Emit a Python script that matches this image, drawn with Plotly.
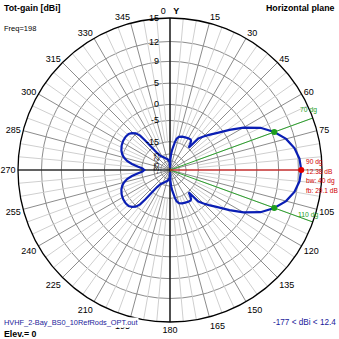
import numpy as np
import plotly.graph_objects as go

# ---------------- data ----------------
azimuth_deg = [0, 2, 4, 6, 8, 10, 12, 15, 20, 25, 30, 34, 36, 38, 40, 42, 45, 48, 52, 56,
               60, 65, 70, 75, 80, 85, 90, 95, 100, 105, 110, 115, 120, 124, 128, 132,
               135, 138, 140, 142, 144, 146, 150, 155, 160, 165, 168, 170, 172, 174, 176,
               178, 180, 182, 185, 190, 195, 200, 205, 210, 214, 217, 219, 220, 221, 223,
               226, 229, 233, 238, 243, 248, 252, 255, 258, 261, 264, 267, 270, 273, 276,
               279, 282, 285, 288, 292, 297, 302, 307, 311, 314, 317, 319, 320, 321, 323,
               326, 330, 335, 340, 345, 350, 355, 358]
gain_dbi = [-60, -33, -25, -21, -18.3, -15, -12.8, -11.6, -11.0, -10.7, -10.4, -10.3, -10.8,
            -12.5, -14.5, -7.8, -5.8, -4.0, -1.5, 1.6, 4.6, 7.5, 9.38, 10.8, 11.7, 12.2,
            12.38, 12.2, 11.7, 10.8, 9.38, 7.5, 4.6, 1.6, -1.5, -4.0, -5.8, -7.8, -14.5,
            -12.5, -10.8, -10.3, -10.4, -10.7, -11.0, -11.6, -12.8, -15, -18.3, -21, -25,
            -33, -60, -40, -36, -33, -31, -30, -28, -26, -24, -20, -14, -9.5, -6.5, -4.8,
            -3.8, -3.2, -3.0, -3.1, -3.4, -4.0, -4.8, -5.8, -7.2, -9.5, -12.5, -15.5, -16.7,
            -15.5, -12.5, -9.5, -7.2, -5.8, -4.8, -4.0, -3.4, -3.1, -3.0, -3.2, -3.8, -4.8,
            -6.5, -9.5, -14, -20, -24, -26, -28, -30, -31, -33, -36, -40]

ring_db = [15, 12, 9, 5, 0, -5, -15, -25, -35]
ring_labels = ["15", "12", "9", "5", "0", "-5", "-15", "-25", "-35"]
angle_ticks = list(range(0, 360, 15))
angle_labels = ["0   <b>Y</b>" if a == 0 else ("" if a == 90 else str(a)) for a in angle_ticks]

max_az = 90
max_gain = 12.38
beam_az = [70, 110]
beam_gain = [9.38, 9.38]
beamwidth = 40
front_back = 29.1
freq = 198
min_dbi, max_dbi = -177, 12.4

# ---------------- scale: ARRL-like log radial scale ----------------
K = 0.056
TOP_DB = 15


def rt(db):
    return np.exp(K * (np.asarray(db, dtype=float) - TOP_DB))


FONT = "Liberation Sans"
fig = go.Figure()

# minor 5-degree spokes
th, rr = [], []
for a in range(0, 360, 5):
    if a % 15:
        th += [a, a, None]
        rr += [float(rt(-15)), 1.0, None]
fig.add_trace(go.Scatterpolar(theta=th, r=rr, mode="lines",
                              line=dict(color="#cfcfcf", width=1), hoverinfo="skip"))

# black main axes
fig.add_trace(go.Scatterpolar(theta=[0, 0, 180], r=[1, 0, 1], mode="lines",
                              line=dict(color="black", width=1.2), hoverinfo="skip"))
fig.add_trace(go.Scatterpolar(theta=[270, 270], r=[1, 0], mode="lines",
                              line=dict(color="black", width=1.2), hoverinfo="skip"))

# beamwidth lines
for a in beam_az:
    fig.add_trace(go.Scatterpolar(theta=[a, a], r=[0, 1], mode="lines",
                                  line=dict(color="#2ca02c", width=1), hoverinfo="skip"))
# max gain line
fig.add_trace(go.Scatterpolar(theta=[max_az, max_az], r=[0, float(rt(max_gain))], mode="lines",
                              line=dict(color="#e00000", width=1.2), hoverinfo="skip"))

# pattern
fig.add_trace(go.Scatterpolar(theta=azimuth_deg + [azimuth_deg[0]],
                              r=list(rt(gain_dbi)) + [float(rt(gain_dbi[0]))],
                              mode="lines", line=dict(color="#0a1eb4", width=2.2),
                              hoverinfo="skip"))

# markers
fig.add_trace(go.Scatterpolar(theta=beam_az, r=list(rt(beam_gain)), mode="markers",
                              marker=dict(color="#1e9e1e", size=6), hoverinfo="skip"))
fig.add_trace(go.Scatterpolar(theta=[max_az], r=[float(rt(max_gain))], mode="markers",
                              marker=dict(color="#e00000", size=6), hoverinfo="skip"))

L, R, T, B = 18, 17, 18, 17
W = H = 339
PW = W - L - R
PH = H - T - B
CX, CY, RAD = L + PW / 2, T + PH / 2, PW / 2


def X(px):
    return (px - L) / PW


def Y(py):
    return (H - B - py) / PH


ann = []


def txt(x, y, s, size=8.6, color="black", xa="left", bold=False, angle=0, bg=None):
    d = dict(x=X(x), y=Y(y), xref="paper", yref="paper", text=(f"<b>{s}</b>" if bold else s),
             showarrow=False, xanchor=xa, yanchor="middle", textangle=angle, borderpad=0,
             font=dict(family=FONT, size=size, color=color))
    if bg:
        d["bgcolor"] = bg
    ann.append(d)


# ring labels
for db, lab in zip(ring_db, ring_labels):
    ry = CY - RAD * float(rt(db))
    if db >= -15:
        txt(160, ry, lab, size=9, xa="right")
txt(156, 158, ring_labels[7], size=8, xa="center", angle=-90)
txt(156, 168, ring_labels[8], size=8, xa="center", angle=-90)

txt(3, 8, "Tot-gain [dBi]", size=8.8, bold=True)
txt(3, 28, f"Freq={freq}", size=7.5)
txt(336, 8, "Horizontal plane", size=8.8, bold=True, xa="right")
txt(3, 322, "HVHF_2-Bay_BS0_10RefRods_OPT.out", size=7.4, color="#1a1a9a", bg="white")
txt(3, 334, "Elev.= 0", size=8.8, bold=True)
txt(337, 322, f"{min_dbi} &lt; dBi &lt; {max_dbi}", size=8.2, color="#1a1a9a", xa="right")

red = "#d00000"
green = "#1e9e1e"
txt(305, 162, f"{max_az} dg", size=6.6, color=red)
txt(305, 171, f"{max_gain} dB", size=6.6, color=red)
txt(305, 181, f"bw: {beamwidth} dg", size=6.6, color=red)
txt(305, 190, f"fb: {front_back} dB", size=6.6, color=red)
txt(299, 110, f"{beam_az[0]} dg", size=6.8, color=green)
txt(297, 215, f"{beam_az[1]} dg", size=6.8, color=green)

fig.update_layout(
    width=W, height=H, margin=dict(l=L, r=R, t=T, b=B),
    paper_bgcolor="white", plot_bgcolor="white", showlegend=False,
    annotations=ann,
    polar=dict(
        bgcolor="white",
        domain=dict(x=[0, 1], y=[0, 1]),
        angularaxis=dict(rotation=90, direction="clockwise", tickmode="array",
                         tickvals=angle_ticks, ticktext=angle_labels,
                         showgrid=True, gridcolor="#8c8c8c", gridwidth=1,
                         showline=True, linecolor="black", linewidth=1.3, ticks="",
                         tickfont=dict(family=FONT, size=9, color="black")),
        radialaxis=dict(range=[0, 1], tickmode="array", tickvals=list(rt(ring_db[1:])),
                        showticklabels=False, ticks="", showline=False,
                        gridcolor="#8c8c8c", gridwidth=1),
    ),
)

fig.write_html("out.html")
